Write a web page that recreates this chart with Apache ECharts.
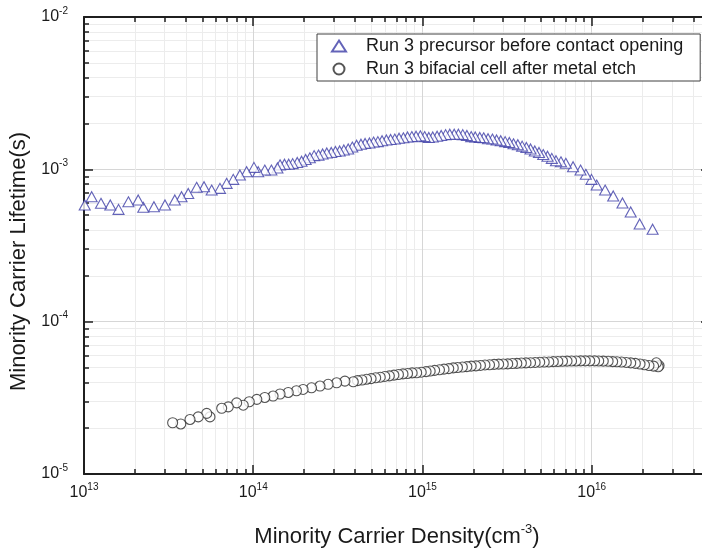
<!DOCTYPE html>
<html>
<head>
<meta charset="utf-8">
<title>Minority carrier lifetime vs density</title>
<script src="https://cdn.jsdelivr.net/npm/echarts@6/dist/echarts.min.js"></script>
<style>
  html, body { margin: 0; padding: 0; background: #ffffff; }
  #chart { width: 702px; height: 551px; }
</style>
</head>
<body>
<div id="chart"></div>
<script>
// Series names
const seriesNames = [
  'Run 3 precursor before contact opening',
  'Run 3 bifacial cell after metal etch'
];

// Run 3 precursor: injection density (cm^-3) and effective lifetime (s)
const precursorDensity = [
  1.01e13, 1.11e13, 1.26e13, 1.43e13, 1.60e13, 1.83e13, 2.09e13, 2.24e13, 2.59e13, 3.01e13,
  3.44e13, 3.77e13, 4.13e13, 4.63e13, 5.12e13, 5.68e13, 6.36e13, 6.96e13, 7.62e13, 8.34e13,
  9.14e13, 1.01e14, 1.07e14, 1.17e14, 1.28e14, 1.39e14,
  1.44e14, 1.53e14, 1.62e14, 1.71e14, 1.82e14, 1.93e14, 2.04e14, 2.16e14, 2.29e14, 2.43e14,
  2.57e14, 2.72e14, 2.89e14, 3.06e14, 3.24e14, 3.43e14, 3.64e14, 3.85e14, 4.08e14, 4.33e14,
  4.58e14, 4.86e14, 5.14e14, 5.45e14, 5.77e14, 6.12e14, 6.48e14, 6.86e14, 7.27e14, 7.71e14,
  8.16e14, 8.65e14, 9.16e14, 9.71e14, 1.03e15, 1.09e15, 1.15e15, 1.22e15, 1.29e15, 1.37e15,
  1.45e15, 1.54e15, 1.63e15, 1.73e15, 1.83e15, 1.94e15, 2.05e15, 2.18e15, 2.30e15, 2.44e15,
  2.59e15, 2.74e15, 2.90e15, 3.08e15, 3.26e15, 3.45e15, 3.66e15, 3.88e15, 4.11e15, 4.35e15,
  4.61e15, 4.88e15, 5.17e15, 5.48e15, 5.81e15, 6.15e15, 6.58e15,
  7.03e15, 7.76e15, 8.59e15, 9.23e15, 9.97e15, 1.07e16, 1.20e16, 1.34e16, 1.52e16, 1.70e16,
  1.92e16, 2.29e16
];
const precursorLifetime = [
  5.83e-4, 6.61e-4, 5.98e-4, 5.83e-4, 5.46e-4, 6.12e-4, 6.29e-4, 5.63e-4, 5.68e-4, 5.83e-4,
  6.29e-4, 6.61e-4, 6.95e-4, 7.62e-4, 7.69e-4, 7.31e-4, 7.50e-4, 8.09e-4, 8.59e-4, 9.18e-4,
  9.64e-4, 1.03e-3, 9.64e-4, 9.89e-4, 9.89e-4, 1.02e-3,
  1.07e-3, 1.08e-3, 1.08e-3, 1.09e-3, 1.11e-3, 1.13e-3, 1.16e-3, 1.19e-3, 1.23e-3, 1.24e-3,
  1.26e-3, 1.28e-3, 1.29e-3, 1.31e-3, 1.32e-3, 1.34e-3, 1.36e-3, 1.40e-3, 1.44e-3, 1.46e-3,
  1.48e-3, 1.49e-3, 1.51e-3, 1.52e-3, 1.54e-3, 1.56e-3, 1.57e-3, 1.58e-3, 1.60e-3, 1.61e-3,
  1.63e-3, 1.64e-3, 1.65e-3, 1.66e-3, 1.64e-3, 1.62e-3, 1.63e-3, 1.65e-3, 1.67e-3, 1.69e-3,
  1.70e-3, 1.70e-3, 1.70e-3, 1.69e-3, 1.67e-3, 1.64e-3, 1.63e-3, 1.62e-3, 1.61e-3, 1.59e-3,
  1.58e-3, 1.56e-3, 1.54e-3, 1.52e-3, 1.50e-3, 1.47e-3, 1.45e-3, 1.42e-3, 1.39e-3, 1.36e-3,
  1.32e-3, 1.29e-3, 1.25e-3, 1.22e-3, 1.18e-3, 1.14e-3, 1.12e-3,
  1.095e-3, 1.04e-3, 9.89e-4, 9.27e-4, 8.59e-4, 7.88e-4, 7.31e-4, 6.68e-4, 6.01e-4, 5.25e-4,
  4.38e-4, 4.04e-4
];

// Run 3 bifacial cell after metal etch
const cellDensity = [
  3.34e13, 3.73e13, 4.23e13, 4.73e13, 5.31e13, 5.55e13, 6.51e13, 7.12e13, 7.98e13, 8.73e13,
  9.47e13, 1.05e14, 1.17e14, 1.31e14, 1.44e14, 1.61e14, 1.80e14, 1.97e14, 2.21e14, 2.48e14,
  2.77e14, 3.11e14, 3.48e14, 3.90e14,
  4.13e14, 4.39e14, 4.67e14, 4.97e14, 5.29e14, 5.63e14, 5.99e14, 6.37e14, 6.78e14, 7.21e14,
  7.67e14, 8.16e14, 8.69e14, 9.24e14, 9.83e14, 1.05e15, 1.11e15, 1.18e15, 1.26e15, 1.34e15,
  1.43e15, 1.52e15, 1.61e15, 1.72e15, 1.83e15, 1.94e15, 2.07e15, 2.20e15, 2.34e15, 2.49e15,
  2.65e15, 2.82e15, 3.00e15, 3.19e15, 3.40e15, 3.61e15, 3.84e15, 4.09e15, 4.35e15, 4.63e15,
  4.93e15, 5.24e15, 5.58e15, 5.93e15, 6.31e15, 6.72e15, 7.15e15, 7.60e15, 8.09e15, 8.61e15,
  9.16e15, 9.74e15, 1.04e16, 1.10e16, 1.17e16, 1.25e16, 1.33e16, 1.41e16, 1.50e16, 1.60e16,
  1.70e16, 1.81e16, 1.93e16, 2.05e16, 2.18e16, 2.32e16, 2.41e16, 2.47e16, 2.50e16
];
const cellLifetime = [
  2.17e-5, 2.13e-5, 2.28e-5, 2.37e-5, 2.50e-5, 2.37e-5, 2.70e-5, 2.76e-5, 2.93e-5, 2.83e-5,
  2.98e-5, 3.09e-5, 3.18e-5, 3.25e-5, 3.35e-5, 3.43e-5, 3.52e-5, 3.59e-5, 3.68e-5, 3.78e-5,
  3.88e-5, 3.97e-5, 4.07e-5, 4.03e-5,
  4.10e-5, 4.14e-5, 4.19e-5, 4.23e-5, 4.28e-5, 4.32e-5, 4.37e-5, 4.41e-5, 4.46e-5, 4.50e-5,
  4.54e-5, 4.57e-5, 4.61e-5, 4.62e-5, 4.66e-5, 4.70e-5, 4.74e-5, 4.79e-5, 4.83e-5, 4.88e-5,
  4.92e-5, 4.97e-5, 5.00e-5, 5.04e-5, 5.07e-5, 5.11e-5, 5.13e-5, 5.16e-5, 5.20e-5, 5.21e-5,
  5.24e-5, 5.26e-5, 5.27e-5, 5.28e-5, 5.31e-5, 5.32e-5, 5.35e-5, 5.36e-5, 5.38e-5, 5.40e-5,
  5.42e-5, 5.43e-5, 5.44e-5, 5.47e-5, 5.48e-5, 5.50e-5, 5.51e-5, 5.52e-5, 5.52e-5, 5.53e-5,
  5.53e-5, 5.53e-5, 5.53e-5, 5.52e-5, 5.51e-5, 5.50e-5, 5.47e-5, 5.45e-5, 5.43e-5, 5.40e-5,
  5.36e-5, 5.32e-5, 5.27e-5, 5.21e-5, 5.15e-5, 5.11e-5, 5.37e-5, 5.06e-5, 5.15e-5
];

// Axis ranges and tick positions
const xRange = [1e13, 5e16];
const yRange = [1e-5, 1e-2];
const xMajorTicks = [1e13, 1e14, 1e15, 1e16];
const yMajorTicks = [1e-5, 1e-4, 1e-3, 1e-2];
const mantissas = [2, 3, 4, 5, 6, 7, 8, 9];

function minorTicksFor(majors, upper) {
  const out = [];
  majors.forEach(function (m) {
    mantissas.forEach(function (k) {
      const v = +(m * k).toPrecision(3);
      if (v < upper) out.push(v);
    });
  });
  return out;
}
const xMinorTicks = minorTicksFor(xMajorTicks, xRange[1]);
const yMinorTicks = minorTicksFor(yMajorTicks.slice(0, 3), yRange[1]);

function powerLabel(v) {
  const e = Math.round(Math.log10(v));
  return '{b|10}{s|' + e + '}';
}
const FONT = 'Liberation Sans';
const TEXT_COLOR = '#1a1a1a';
const AXIS_COLOR = '#1f1f1f';

const labelRich = {
  b: { fontSize: 16, fontFamily: FONT, color: TEXT_COLOR },
  s: { fontSize: 10, fontFamily: FONT, color: TEXT_COLOR, padding: [0, 0, 12, 0] }
};

function pairs(xs, ys) {
  // measurement order runs from high injection down to low injection
  return xs.map(function (x, i) { return [x, ys[i]]; }).reverse();
}

function baseAxis(range, opts) {
  return Object.assign({
    type: 'log', logBase: 10, min: range[0], max: range[1],
    gridIndex: 0,
    axisLine: { show: false },
    axisTick: { show: false },
    axisLabel: { show: false },
    splitLine: { show: false },
    minorTick: { show: false },
    minorSplitLine: { show: false }
  }, opts);
}
function tickSet(values, len) {
  return { show: true, inside: true, length: len, customValues: values,
           lineStyle: { color: AXIS_COLOR, width: 1.5 } };
}
const frameLine = { show: true, onZero: false, lineStyle: { color: AXIS_COLOR, width: 2 } };

const chart = echarts.init(document.getElementById('chart'), null, { renderer: 'canvas' });

const option = {
  animation: false,
  backgroundColor: '#ffffff',
  grid: { left: 84, top: 17, width: 626, height: 457, containLabel: false, outerBoundsMode: 'none' },
  legend: {
    orient: 'vertical',
    left: 317,
    top: 34,
    padding: [3, 17, 3, 14],
    itemGap: 5,
    itemWidth: 14,
    itemHeight: 11,
    borderColor: '#404040',
    borderWidth: 1,
    borderRadius: 0,
    backgroundColor: '#ffffff',
    textStyle: { fontFamily: FONT, fontSize: 18, color: TEXT_COLOR, padding: [0, 0, 0, 15] },
    data: seriesNames
  },
  xAxis: [
    // minor grid and minor ticks, bottom
    baseAxis(xRange, {
      position: 'bottom',
      axisTick: tickSet(xMinorTicks, 5),
      splitLine: { show: true, lineStyle: { color: '#ececec', width: 1 } },
      axisLabel: { show: false, customValues: xMinorTicks }
    }),
    // major grid, ticks and labels, bottom
    baseAxis(xRange, {
      position: 'bottom',
      name: 'Minority Carrier Density(cm{s|-3})',
      nameLocation: 'middle',
      nameGap: 49,
      nameTextStyle: {
        fontFamily: FONT, fontSize: 22, color: TEXT_COLOR,
        rich: { s: { fontFamily: FONT, fontSize: 13, color: TEXT_COLOR, padding: [0, 0, 15, 0] } }
      },
      axisLine: frameLine,
      axisTick: tickSet(xMajorTicks, 9),
      splitLine: { show: true, lineStyle: { color: '#d6d6d6', width: 1 } },
      axisLabel: { show: true, margin: 8, customValues: xMajorTicks, formatter: powerLabel, rich: labelRich }
    }),
    // top frame
    baseAxis(xRange, {
      position: 'top',
      axisTick: tickSet(xMinorTicks, 5),
      axisLabel: { show: false, customValues: xMinorTicks }
    }),
    baseAxis(xRange, {
      position: 'top',
      axisLine: frameLine,
      axisTick: tickSet(xMajorTicks, 9),
      axisLabel: { show: false, customValues: xMajorTicks }
    })
  ],
  yAxis: [
    baseAxis(yRange, {
      position: 'left',
      axisTick: tickSet(yMinorTicks, 5),
      splitLine: { show: true, lineStyle: { color: '#ececec', width: 1 } },
      axisLabel: { show: false, customValues: yMinorTicks }
    }),
    baseAxis(yRange, {
      position: 'left',
      name: 'Minority Carrier Lifetime(s)',
      nameLocation: 'middle',
      nameGap: 50,
      nameTextStyle: { fontFamily: FONT, fontSize: 22, color: TEXT_COLOR, padding: [0, 32, 0, 0] },
      axisLine: frameLine,
      axisTick: tickSet(yMajorTicks, 9),
      splitLine: { show: true, lineStyle: { color: '#d6d6d6', width: 1 } },
      axisLabel: { show: true, margin: 16, customValues: yMajorTicks, formatter: powerLabel, rich: labelRich }
    }),
    // right frame
    baseAxis(yRange, {
      position: 'right',
      axisTick: tickSet(yMinorTicks, 5),
      axisLabel: { show: false, customValues: yMinorTicks }
    }),
    baseAxis(yRange, {
      position: 'right',
      axisLine: frameLine,
      axisTick: tickSet(yMajorTicks, 9),
      axisLabel: { show: false, customValues: yMajorTicks }
    })
  ],
  series: [
    {
      name: seriesNames[0],
      type: 'scatter',
      xAxisIndex: 1,
      yAxisIndex: 1,
      symbol: 'triangle',
      symbolSize: [11, 10],
      itemStyle: { color: '#ffffff', borderColor: '#3c3ca6', borderWidth: 1.1 },
      data: pairs(precursorDensity, precursorLifetime),
      z: 3
    },
    {
      name: seriesNames[1],
      type: 'scatter',
      xAxisIndex: 1,
      yAxisIndex: 1,
      symbol: 'circle',
      symbolSize: 10,
      itemStyle: { color: '#ffffff', borderColor: '#2a2a2a', borderWidth: 1.1 },
      data: pairs(cellDensity, cellLifetime),
      z: 3
    }
  ]
};

chart.setOption(option);
</script>
</body>
</html>
